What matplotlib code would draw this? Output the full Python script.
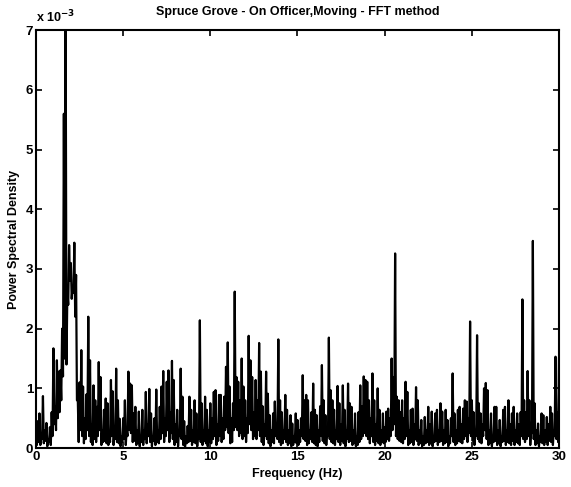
import numpy as np
import matplotlib
matplotlib.use("Agg")
import matplotlib.pyplot as plt

# PSD, in units of 1e-3.
# Local maxima, one value per 0.1 Hz (0.0 .. 30.0 Hz)
psd_0_10 = [
    0.25, 0.45, 0.58, 0.20, 0.87, 0.30, 0.42, 0.15, 0.35, 0.60,
    1.67, 0.70, 1.47, 1.28, 1.30, 2.00, 5.60, 7.50, 2.60, 3.40,
    3.10, 2.70, 3.44, 2.90, 0.80, 1.10, 1.64, 1.03, 0.50, 0.90,
    2.20, 1.47, 0.40, 1.05, 0.80, 0.69, 1.44, 1.19, 0.30, 0.64,
    0.83, 0.75, 0.20, 1.14, 0.95, 0.30, 1.33, 0.80, 0.49, 0.20,
    0.50, 0.80, 0.30, 1.28, 1.08, 1.05, 0.58, 0.69, 0.30, 0.61,
    0.20, 0.64, 0.30, 0.94, 0.40, 0.99, 0.58, 0.20, 0.50, 0.98,
    0.30, 0.69, 1.03, 1.29, 0.50, 1.11, 1.30, 0.60, 1.46, 1.14,
    0.40, 0.64, 0.30, 1.33, 0.86, 0.45, 0.20, 0.37, 0.86, 0.64,
    0.30, 0.80, 0.58, 0.30, 2.14, 0.75, 0.30, 0.86, 0.64, 0.30,
]
psd_10_20 = [
    0.75, 0.50, 0.94, 0.97, 0.40, 0.89, 0.89, 0.50, 0.86, 1.36,
    1.77, 1.03, 0.50, 0.75, 2.62, 1.19, 1.11, 0.80, 1.50, 1.03,
    0.80, 0.50, 1.88, 1.47, 1.19, 0.60, 1.14, 0.80, 1.76, 1.28,
    0.70, 0.40, 1.28, 0.91, 0.55, 0.30, 0.58, 0.78, 0.40, 1.82,
    0.80, 0.60, 0.30, 0.89, 0.64, 0.30, 0.55, 0.41, 0.20, 0.58,
    0.47, 0.30, 0.50, 1.22, 0.80, 0.89, 0.80, 0.30, 0.60, 1.08,
    0.64, 0.55, 0.30, 0.70, 1.39, 0.80, 0.55, 0.30, 1.85, 0.97,
    0.80, 0.64, 0.30, 1.04, 0.75, 0.40, 1.05, 0.64, 0.30, 1.08,
    0.75, 0.69, 0.30, 0.58, 0.20, 0.60, 1.05, 0.70, 1.20, 1.14,
    1.11, 0.80, 0.50, 1.25, 0.80, 0.40, 1.00, 0.64, 0.30, 0.58,
]
psd_20_30 = [
    0.35, 0.61, 0.66, 0.50, 1.50, 1.19, 3.26, 0.86, 0.80, 0.60,
    0.80, 0.50, 1.11, 0.94, 0.30, 0.64, 0.66, 0.40, 1.02, 0.80,
    0.30, 0.47, 0.20, 0.52, 0.30, 0.69, 0.40, 0.61, 0.20, 0.58,
    0.64, 0.30, 0.75, 0.61, 0.30, 0.64, 0.47, 0.20, 0.50, 1.25,
    0.58, 0.30, 0.64, 0.69, 0.40, 0.66, 0.80, 0.78, 0.50, 2.12,
    0.80, 0.60, 0.30, 1.89, 0.75, 0.58, 0.40, 1.00, 1.09, 0.97,
    0.30, 0.58, 0.20, 0.69, 0.69, 0.30, 0.47, 0.20, 0.64, 0.69,
    0.30, 0.80, 0.40, 0.58, 0.69, 0.30, 0.58, 0.40, 0.60, 2.49,
    0.80, 0.60, 1.29, 0.80, 0.30, 3.47, 0.75, 0.30, 0.41, 0.20,
    0.58, 0.55, 0.30, 0.52, 0.40, 0.69, 0.58, 0.30, 1.53, 0.60,
    1.50,
]
# Dips between consecutive maxima (0.05, 0.15, ... 29.95 Hz)
dips_0_10 = [
    0.05, 0.10, 0.05, 0.15, 0.08, 0.12, 0.03, 0.10, 0.05, 0.20,
    0.40, 0.30, 0.50, 0.60, 0.80, 1.20, 1.50, 1.40, 2.40, 2.80,
    2.50, 2.60, 2.20, 0.80, 0.10, 0.30, 0.20, 0.08, 0.15, 0.30,
    0.20, 0.10, 0.05, 0.15, 0.10, 0.20, 0.30, 0.05, 0.10, 0.12,
    0.08, 0.05, 0.10, 0.20, 0.05, 0.15, 0.10, 0.08, 0.03, 0.10,
    0.15, 0.05, 0.20, 0.30, 0.25, 0.10, 0.12, 0.05, 0.08, 0.03,
    0.10, 0.05, 0.15, 0.08, 0.20, 0.10, 0.03, 0.12, 0.05, 0.10,
    0.08, 0.15, 0.25, 0.10, 0.20, 0.30, 0.10, 0.25, 0.15, 0.05,
    0.10, 0.03, 0.20, 0.15, 0.05, 0.02, 0.08, 0.10, 0.12, 0.05,
    0.10, 0.08, 0.03, 0.15, 0.10, 0.05, 0.12, 0.08, 0.03, 0.10,
]
dips_10_20 = [
    0.08, 0.15, 0.20, 0.05, 0.12, 0.20, 0.10, 0.15, 0.30, 0.35,
    0.25, 0.08, 0.10, 0.30, 0.35, 0.30, 0.20, 0.25, 0.15, 0.20,
    0.10, 0.25, 0.40, 0.30, 0.15, 0.20, 0.15, 0.30, 0.20, 0.10,
    0.05, 0.20, 0.15, 0.08, 0.03, 0.10, 0.08, 0.20, 0.15, 0.10,
    0.05, 0.08, 0.15, 0.10, 0.05, 0.08, 0.03, 0.05, 0.10, 0.08,
    0.05, 0.10, 0.20, 0.15, 0.12, 0.05, 0.08, 0.15, 0.10, 0.08,
    0.05, 0.03, 0.10, 0.20, 0.12, 0.08, 0.05, 0.20, 0.15, 0.10,
    0.08, 0.05, 0.15, 0.10, 0.05, 0.12, 0.08, 0.03, 0.15, 0.10,
    0.12, 0.05, 0.08, 0.03, 0.05, 0.10, 0.15, 0.20, 0.25, 0.20,
    0.15, 0.08, 0.20, 0.10, 0.05, 0.12, 0.08, 0.05, 0.10, 0.08,
]
dips_20_30 = [
    0.10, 0.15, 0.12, 0.20, 0.30, 0.40, 0.20, 0.15, 0.12, 0.10,
    0.08, 0.15, 0.20, 0.05, 0.08, 0.10, 0.05, 0.15, 0.12, 0.05,
    0.08, 0.03, 0.05, 0.08, 0.10, 0.05, 0.08, 0.03, 0.10, 0.12,
    0.05, 0.10, 0.12, 0.05, 0.08, 0.10, 0.03, 0.08, 0.20, 0.10,
    0.05, 0.08, 0.12, 0.10, 0.08, 0.15, 0.20, 0.10, 0.25, 0.20,
    0.12, 0.05, 0.20, 0.15, 0.10, 0.08, 0.20, 0.30, 0.15, 0.05,
    0.08, 0.03, 0.10, 0.12, 0.05, 0.08, 0.03, 0.10, 0.12, 0.05,
    0.10, 0.08, 0.05, 0.12, 0.05, 0.10, 0.08, 0.05, 0.20, 0.15,
    0.10, 0.15, 0.20, 0.05, 0.25, 0.15, 0.05, 0.08, 0.03, 0.10,
    0.08, 0.05, 0.10, 0.05, 0.12, 0.10, 0.05, 0.20, 0.15, 0.10,
]

peaks = np.array(psd_0_10 + psd_10_20 + psd_20_30)
dips = np.array(dips_0_10 + dips_10_20 + dips_20_30)

# interleave maxima and dips on a 0.05 Hz grid
psd = np.empty(len(peaks) + len(dips))
psd[0::2] = peaks
psd[1::2] = dips
freq = np.arange(len(psd)) * 0.05

x_ticks = [0, 5, 10, 15, 20, 25, 30]
y_ticks = [0, 1, 2, 3, 4, 5, 6, 7]

plt.rcParams['font.family'] = ['Liberation Sans', 'DejaVu Sans']
plt.rcParams['font.weight'] = 'bold'

fig = plt.figure(figsize=(5.71, 4.87), dpi=100)
ax = fig.add_axes([0.063, 0.080, 0.916, 0.858])

ax.plot(freq, psd, color='black', linewidth=1.6)

ax.set_xlim(0, 30)
ax.set_ylim(0, 7)
ax.set_xticks(x_ticks)
ax.set_yticks(y_ticks)
ax.tick_params(direction='in', top=True, right=True, length=4, width=1.2,
               labelsize=9.5, pad=2)
for lbl in ax.get_xticklabels() + ax.get_yticklabels():
    lbl.set_fontweight('bold')
for s in ax.spines.values():
    s.set_linewidth(1.5)

ax.set_title("Spruce Grove - On Officer,Moving - FFT method",
             fontsize=9, fontweight='bold', pad=11)
ax.set_xlabel("Frequency (Hz)", fontsize=9, fontweight='bold', labelpad=4)
ax.set_ylabel("Power Spectral Density", fontsize=9, fontweight='bold', labelpad=4)
ax.text(0.0, 1.012, r"x 10$^{-3}$", transform=ax.transAxes, fontsize=9,
        fontweight='bold', ha='left', va='bottom')

fig.savefig("out.png", dpi=100)
